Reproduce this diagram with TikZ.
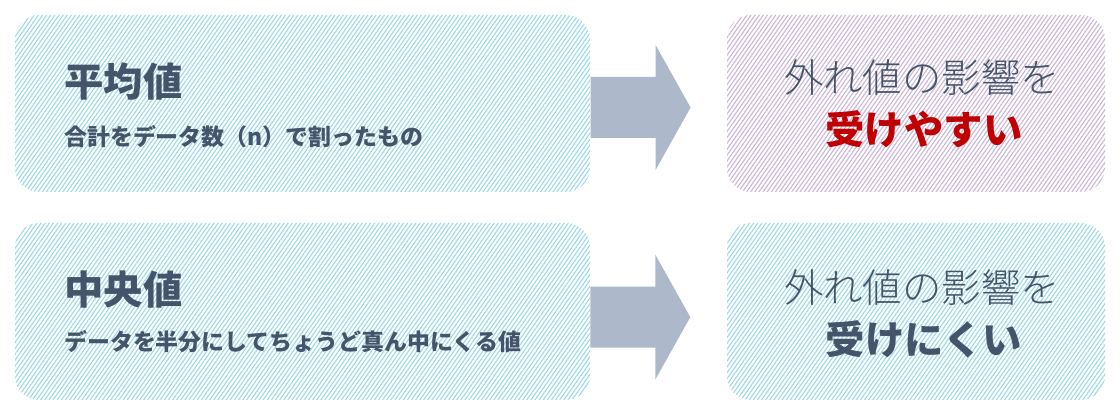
\documentclass[tikz,border=0pt]{standalone}
\usepackage{fontspec}
\newfontfamily\jpfont{Noto Sans CJK JP}
\newfontfamily\jplight{Noto Sans CJK JP Light}
\usetikzlibrary{calc,patterns.meta}
\definecolor{slate}{HTML}{44546A}
\definecolor{alertred}{HTML}{C00000}
\definecolor{arrowgray}{HTML}{ADB9CA}
\definecolor{cyanfill}{HTML}{D4F0F6}
\definecolor{cyanline}{HTML}{9DD9E7}
\definecolor{lilacfill}{HTML}{E8DFEE}
\definecolor{lilacline}{HTML}{C9B6D8}
\tikzset{
  box/.style={inner sep=0pt, rounded corners=0.6cm, minimum height=4.425cm},
  cyanbox/.style={box, fill=cyanfill, pattern={Lines[angle=55,distance=2.4pt,line width=0.8pt]}, pattern color=cyanline},
  lilacbox/.style={box, fill=lilacfill, pattern={Lines[angle=55,distance=2.4pt,line width=0.8pt]}, pattern color=lilacline},
  title/.style={anchor=base west, inner sep=0pt, text=slate, font=\jpfont\bfseries\fontsize{28}{30}\selectfont},
  sub/.style={anchor=base west, inner sep=0pt, text=slate, font=\jpfont\bfseries\fontsize{16.3}{18}\selectfont},
  effect/.style={anchor=base, inner sep=0pt, text=slate, font=\jplight\fontsize{28}{30}\selectfont},
  verdict/.style={anchor=base, inner sep=0pt, font=\jpfont\bfseries\fontsize{28}{30}\selectfont}
}
\def\blockarrow(#1){\fill[arrowgray] ($(#1)+(0,0.7625)$) -- ++(1.625,0) -- ++(0,0.8) -- ($(#1)+(2.5,0)$) -- ($(#1)+(1.625,-1.5625)$) -- ++(0,0.8) -- ($(#1)+(0,-0.7625)$) -- cycle;}

\begin{document}
\begin{tikzpicture}
			%%%%% START %%%%%
			\useasboundingbox (0, 0) rectangle (28, 10.425);
			
			\node[cyanbox, minimum width=14.375cm] (mean) at (7.5625, 7.8375) {};
			\node[cyanbox, minimum width=14.375cm] (median) at (7.5625, 2.6375) {};
			\node[lilacbox, minimum width=9.45cm] (meanfx) at (22.9, 7.8375) {};
			\node[cyanbox, minimum width=9.45cm] (medianfx) at (22.9, 2.6375) {};
			
			\node[title] (meanttl) at (1.6, 8.0) {平均値};
			\node[sub] (meansub) at (1.6, 6.78) {合計をデータ数（n）で割ったもの};
			\node[title] (medianttl) at (1.6, 2.8) {中央値};
			\node[sub] (mediansub) at (1.6, 1.655) {データを半分にしてちょうど真ん中にくる値};
			
			\node[effect] (meanfx1) at (23.05, 8.1) {外れ値の影響を};
			\node[verdict, text=alertred] (meanfx2) at (23.1, 6.8) {受けやすい};
			\node[effect] (medianfx1) at (23.05, 2.85) {外れ値の影響を};
			\node[verdict, text=slate] (medianfx2) at (23.1, 1.55) {受けにくい};
			
			\coordinate (meanout) at ($(mean.east)+(0, -0.1)$);
			\coordinate (medianout) at ($(median.east)+(0, -0.14)$);
			\blockarrow(meanout);
			\blockarrow(medianout);
			
			%%%%% END %%%%%
\end{tikzpicture}
\end{document}
